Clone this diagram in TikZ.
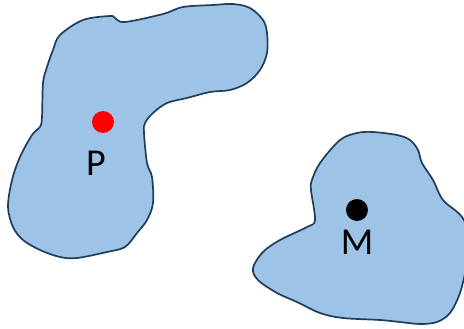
\documentclass[tikz,border=0pt]{standalone}
\usepackage{fontspec}
\setmainfont{Carlito}
\definecolor{blobfill}{HTML}{9DC3E6}
\definecolor{blobline}{HTML}{1F3E5A}
\begin{document}
\begin{tikzpicture}[x=1pt,y=-1pt,
  blob/.style={fill=blobfill,draw=blobline,line width=1.7pt,line join=round},
  dotp/.style={circle,inner sep=0pt,minimum size=22pt},
  lbl/.style={font=\fontsize{38}{44}\selectfont,text=black,inner sep=0pt}]
\useasboundingbox (0,0) rectangle (464,329);
\clip (0,0) rectangle (464,329);
% left blob
\draw[blob] plot[smooth cycle,tension=0.55] coordinates {
 (60,35) (83,20) (110,16) (115,18) (125,22) (163,14) (183,7) (213,5) (233,4)
 (250,8) (263,20) (267,33) (267,53) (260,70) (247,83) (230,90) (210,92)
 (187,98) (167,103) (153,113) (145,123) (144,133) (147,163) (152,177)
 (153,203) (147,220) (137,233) (125,247) (107,252) (77,258) (60,257)
 (40,250) (23,240) (13,227) (8,207) (12,180) (20,157) (32,135) (40,127)
 (42,117) (43,83) (47,67) (53,50)};
% right blob
\draw[blob] plot[smooth cycle,tension=0.55] coordinates {
 (357,133) (373,132) (397,135) (410,140) (418,150) (422,163) (433,180)
 (443,200) (462,217) (470,240) (466,268) (460,293) (450,313) (437,322)
 (420,324) (400,322) (380,320) (343,318) (320,313) (297,302) (277,293)
 (258,280) (253,268) (263,252) (280,240) (307,227) (315,220) (311,190)
 (312,180) (320,163) (340,140)};
\node[dotp,fill=red] (p) at (103,122) {};
\node[lbl] (plabel) at (96,163) {P};
\node[dotp,fill=black] (m) at (357,210) {};
\node[lbl] (mlabel) at (357,242) {M};
\end{tikzpicture}
\end{document}
